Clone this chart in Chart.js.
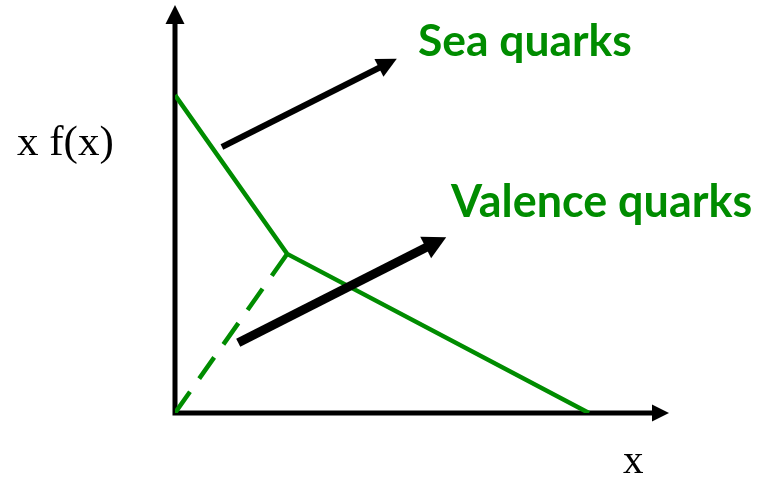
<!DOCTYPE html>
<html>
<head>
<meta charset="utf-8">
<script src="https://cdn.jsdelivr.net/npm/chart.js@4.4.1/dist/chart.umd.min.js"></script>
<style>
  html, body { margin: 0; padding: 0; background: #fff; }
  #wrap { width: 762px; height: 477px; }
</style>
</head>
<body>
<div id="wrap"><canvas id="pdf-chart"></canvas></div>
<script>
// x f(x) sketch: sea quarks rise at small x, valence quarks peak then fall
const seaX = [0, 22.7, 83.8];
const seaY = [77.9, 39.0, 0];
const valenceX = [0, 22.7];
const valenceY = [0, 39.0];

// pointer arrows (tail -> tip) for the two labels
const seaArrowX = [9.5, 44.9];
const seaArrowY = [65.2, 86.8];
const valenceArrowX = [12.8, 54.9];
const valenceArrowY = [17.2, 43.1];

const labels = ['Sea quarks', 'Valence quarks'];
const yTitle = 'x f(x)';
const xTitle = 'x';

const GREEN = '#008c00';

const pts = (xs, ys) => xs.map((x, i) => ({ x, y: ys[i] }));

function arrowHead(ctx, x0, y0, x1, y1, len, half) {
  const a = Math.atan2(y1 - y0, x1 - x0);
  ctx.beginPath();
  ctx.moveTo(x1, y1);
  ctx.lineTo(x1 - len * Math.cos(a) + half * Math.sin(a), y1 - len * Math.sin(a) - half * Math.cos(a));
  ctx.lineTo(x1 - len * Math.cos(a) - half * Math.sin(a), y1 - len * Math.sin(a) + half * Math.cos(a));
  ctx.closePath();
  ctx.fill();
}

function arrow(ctx, x0, y0, x1, y1, width, len, half) {
  const a = Math.atan2(y1 - y0, x1 - x0);
  ctx.save();
  ctx.strokeStyle = '#000';
  ctx.fillStyle = '#000';
  ctx.lineWidth = width;
  ctx.lineCap = 'butt';
  ctx.beginPath();
  ctx.moveTo(x0, y0);
  ctx.lineTo(x1 - (len - 2) * Math.cos(a), y1 - (len - 2) * Math.sin(a));
  ctx.stroke();
  arrowHead(ctx, x0, y0, x1, y1, len, half);
  ctx.restore();
}

// draws the axes with arrow tips behind the curves
const axesPlugin = {
  id: 'axesArrows',
  beforeDatasetsDraw(chart) {
    const { ctx, scales: { x, y } } = chart;
    const ox = x.getPixelForValue(0), oy = y.getPixelForValue(0);
    const xEnd = x.getPixelForValue(x.max), yEnd = y.getPixelForValue(y.max);
    ctx.save();
    ctx.strokeStyle = '#000';
    ctx.fillStyle = '#000';
    ctx.lineWidth = 5;
    ctx.beginPath();
    ctx.moveTo(ox, oy + 2.5);
    ctx.lineTo(ox, yEnd + 15);
    ctx.moveTo(ox - 2.5, oy);
    ctx.lineTo(xEnd - 14, oy);
    ctx.stroke();
    arrowHead(ctx, ox, oy, ox, yEnd, 19, 9.5);
    arrowHead(ctx, ox, oy, xEnd, oy, 17, 8.5);
    ctx.restore();
  }
};

// pointer arrows and text labels on top
const labelPlugin = {
  id: 'labels',
  afterDatasetsDraw(chart) {
    const { ctx } = chart;
    [[2, 6, 20, 10], [3, 9, 23, 12]].forEach(([i, w, len, half]) => {
      const p = chart.getDatasetMeta(i).data;
      arrow(ctx, p[0].x, p[0].y, p[1].x, p[1].y, w, len, half);
    });

    ctx.save();
    ctx.textBaseline = 'alphabetic';
    ctx.textAlign = 'left';
    ctx.fillStyle = GREEN;
    const fit = (text, width, size) => {
      ctx.font = 'bold ' + size + 'px Lato';
      const s = size * width / ctx.measureText(text).width;
      ctx.font = 'bold ' + s.toFixed(1) + 'px Lato';
    };
    fit(labels[0], 214, 40);
    ctx.fillText(labels[0], 418, 56);
    fit(labels[1], 301, 40);
    ctx.fillText(labels[1], 451, 217);

    ctx.fillStyle = '#000';
    ctx.font = '43px "Liberation Serif"';
    ctx.fillText(yTitle, 17, 155);
    ctx.font = '41px "Liberation Serif"';
    ctx.fillText(xTitle, 623, 473);
    ctx.restore();
  }
};

new Chart(document.getElementById('pdf-chart'), {
  type: 'scatter',
  data: {
    datasets: [
      { label: 'sea', data: pts(seaX, seaY), showLine: true, borderColor: GREEN, borderWidth: 4.5, pointRadius: 0, borderJoinStyle: 'miter' },
      { label: 'valence', data: pts(valenceX, valenceY), showLine: true, borderColor: GREEN, borderWidth: 4.5, borderDash: [26, 16], borderCapStyle: 'butt', pointRadius: 0 },
      { label: 'sea pointer', data: pts(seaArrowX, seaArrowY), showLine: false, pointRadius: 0 },
      { label: 'valence pointer', data: pts(valenceArrowX, valenceArrowY), showLine: false, pointRadius: 0 }
    ]
  },
  options: {
    responsive: true,
    maintainAspectRatio: false,
    animation: false,
    events: [],
    layout: { padding: { left: 175, right: 93, top: 5, bottom: 64 } },
    plugins: { legend: { display: false }, tooltip: { enabled: false } },
    scales: {
      x: { type: 'linear', min: 0, max: 100, display: false },
      y: { type: 'linear', min: 0, max: 100, display: false }
    }
  },
  plugins: [axesPlugin, labelPlugin]
});
</script>
</body>
</html>
